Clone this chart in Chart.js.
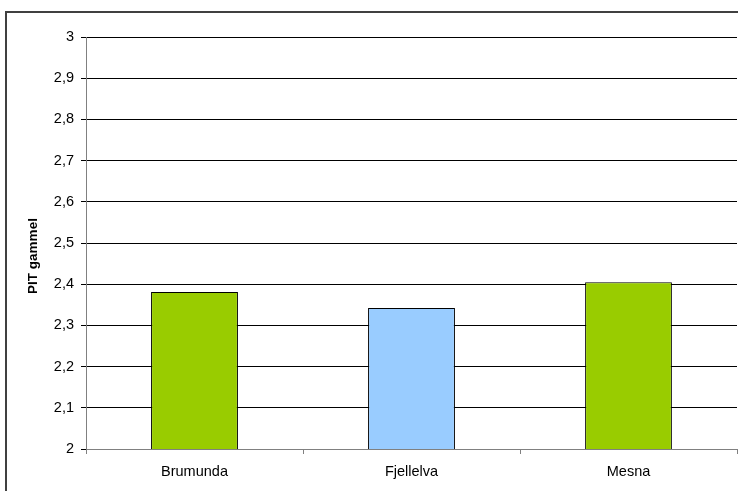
<!DOCTYPE html>
<html>
<head>
<meta charset="utf-8">
<script src="https://cdn.jsdelivr.net/npm/chart.js@4"></script>
<style>
  body { margin: 0; background: #fff; }
  #wrap { position: relative; width: 738px; height: 491px; }
  #frame { position: absolute; left: 5px; top: 11px; width: 760px; height: 520px;
           border-left: 2px solid #404040; border-top: 2px solid #404040; }
  canvas { position: absolute; left: 0; top: 0; }
</style>
</head>
<body>
<div id="wrap">
  <div id="frame"></div>
  <canvas id="pitChart" width="738" height="491"></canvas>
</div>
<script>
// PIT gammel per elv
const sites = ["Brumunda", "Fjellelva", "Mesna"];
const pitValues = [2.381, 2.342, 2.405];
const barColors = ["#99CC00", "#99CCFF", "#99CC00"];
const yMin = 2;
const yMax = 3;
const yTitle = "PIT gammel";

// y-axis title, drawn a bit below the middle like the original
const yTitlePlugin = {
  id: "yTitle",
  afterDraw(chart) {
    const c = chart.ctx;
    c.save();
    c.translate(33, 256);
    c.rotate(-Math.PI / 2);
    c.font = "bold 13.5px 'Liberation Sans'";
    c.fillStyle = "#000";
    c.textAlign = "center";
    c.textBaseline = "middle";
    c.fillText(yTitle, 0, 0);
    c.restore();
  },
};

const tickFont = { family: "Liberation Sans", size: 14.5 };

const ctx = document.getElementById("pitChart").getContext("2d");
const pitChart = new Chart(ctx, {
  type: "bar",
  data: {
    labels: sites,
    datasets: [
      {
        label: yTitle,
        data: pitValues,
        backgroundColor: barColors,
        borderColor: "#000",
        borderWidth: 1,
        barPercentage: 0.4,
        categoryPercentage: 1,
      },
    ],
  },
  plugins: [yTitlePlugin],
  options: {
    responsive: false,
    animation: false,
    layout: { padding: { top: 37, right: 1, left: 0, bottom: 0 } },
    plugins: { legend: { display: false }, tooltip: { enabled: false } },
    scales: {
      x: {
        grid: { drawOnChartArea: false, tickLength: 5, color: "#808080" },
        border: { color: "#808080" },
        ticks: { color: "#000", font: tickFont, padding: 9 },
        afterFit: (s) => { s.height = 42; },
      },
      y: {
        min: yMin,
        max: yMax,
        ticks: {
          stepSize: 0.1,
          color: "#000",
          padding: 7,
          font: tickFont,
          callback: (v) => String(Math.round(v * 10) / 10).replace(".", ","),
        },
        grid: { color: "#000", tickLength: 5 },
        border: { color: "#808080" },
        afterFit: (s) => { s.width = 86; },
      },
    },
  },
});
</script>
</body>
</html>
